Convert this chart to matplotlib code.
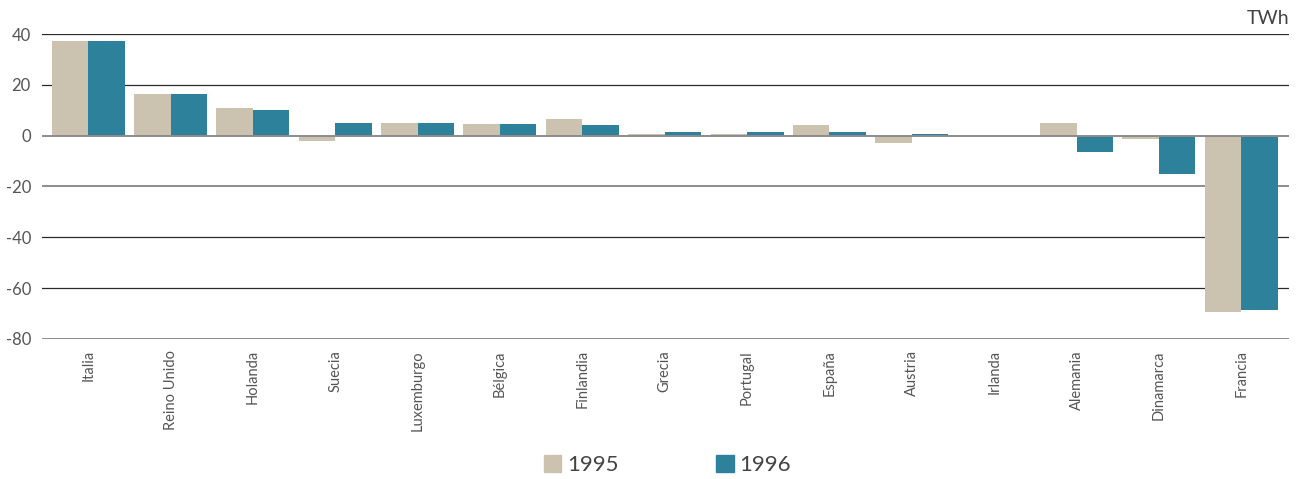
import matplotlib.pyplot as plt
import matplotlib.patches as mpatches
import numpy as np

paises = ["Italia", "Reino Unido", "Holanda", "Suecia", "Luxemburgo", "Bélgica",
          "Finlandia", "Grecia", "Portugal", "España", "Austria", "Irlanda",
          "Alemania", "Dinamarca", "Francia"]
v1995 = [37.4, 16.5, 11.0, -2.2, 5.1, 4.4, 6.7, 0.8, 0.8, 4.3, -3.0, 0.0, 5.1, -1.4, -69.3]
v1996 = [37.4, 16.5, 10.2, 5.1, 5.1, 4.4, 4.3, 1.6, 1.6, 1.6, 0.8, 0.0, -6.6, -15.2, -68.5]
yticks = [40, 20, 0, -20, -40, -60, -80]

c95 = "#ccc2b0"
c96 = "#2e819b"
txt = "#555555"
plt.rcParams['font.family'] = ['Lato', 'DejaVu Sans']

fig = plt.figure(figsize=(13.01, 4.79), dpi=100)
ax = fig.add_axes([0.0323, 0.2923, 0.9585, 0.6367])

x = np.arange(len(paises))
w = 0.443
ax.bar(x - w / 2, v1995, w, color=c95, zorder=2)
ax.bar(x + w / 2, v1996, w, color=c96, zorder=2)

# lineas horizontales
for t in yticks:
    if t in (0, -20, -80):
        ax.axhline(t, color="#8c8c8c", lw=1.4, zorder=3 if t == 0 else 1)
    else:
        ax.axhline(t, color="#2a2a2a", lw=0.9, zorder=1)

ax.set_xlim(-0.56, 14.58)
ax.set_ylim(-80, 40)
ax.set_yticks(yticks)
ax.set_yticklabels([str(t) for t in yticks], fontsize=12, color=txt)
ax.set_xticks(x)
ax.set_xticklabels(paises, rotation=90, fontsize=10.5, color=txt)
ax.tick_params(axis='both', length=0)
ax.tick_params(axis='y', pad=8)
ax.tick_params(axis='x', pad=8)
for s in ax.spines.values():
    s.set_visible(False)

fig.text(0.9908, 0.962, "TWh", ha='right', va='center', fontsize=14, color="#444444")

h = [mpatches.Patch(color=c95, label="1995"), mpatches.Patch(color=c96, label="1996")]
leg = fig.legend(handles=h, loc='center', bbox_to_anchor=(0.513, 0.03), ncol=2, frameon=False,
                 fontsize=16, handlelength=0.8, handleheight=0.8, handletextpad=0.25,
                 columnspacing=4.4, labelcolor="#444444")

fig.savefig("out.png", dpi=100)
